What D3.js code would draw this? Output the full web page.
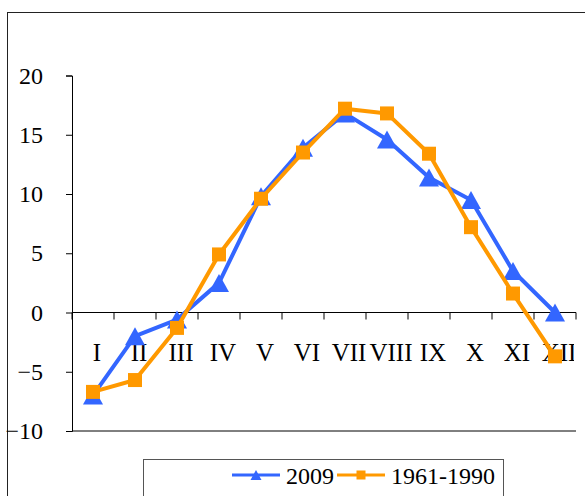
<!DOCTYPE html>
<html><head><meta charset="utf-8">
<script src="https://cdn.jsdelivr.net/npm/d3@7"></script>
<style>body{margin:0;background:#fff}svg{display:block}</style>
</head><body>
<svg id="c" width="585" height="496"></svg>
<script>
const months = ["I","II","III","IV","V","VI","VII","VIII","IX","X","XI","XII"];
const values2009 = [-7.0,-2.0,-0.6,2.5,9.8,13.9,16.8,14.6,11.4,9.5,3.5,0.0];
const values6190 = [-6.7,-5.7,-1.3,4.9,9.6,13.5,17.2,16.8,13.4,7.2,1.6,-3.7];
const yTicks = [-10,-5,0,5,10,15,20];
const seriesNames = ["2009","1961-1990"];

const FONT = "'Liberation Serif', 'DejaVu Serif', serif";
const svg = d3.select("#c").attr("font-family",FONT);
const blue = "#3366FF", orange = "#FF9900";
const fs = 24;

svg.append("rect").attr("x",7.5).attr("y",12.5).attr("width",620).attr("height",520)
  .attr("fill","none").attr("stroke","#222").attr("stroke-width",1);

const x = d3.scaleBand().domain(months).range([72,576]);
const y = d3.scaleLinear().domain([-10,20]).range([431,75.5]);

// y axis
const ya = svg.append("g").attr("transform","translate(72,0)")
  .call(d3.axisLeft(y).tickValues(yTicks).tickSize(6).tickPadding(23).tickFormat(d3.format("d")));
ya.attr("font-family",FONT).attr("font-size",fs);
ya.select(".domain").attr("stroke","#000");
ya.selectAll(".tick line").attr("stroke","#000");
ya.selectAll("text").attr("fill","#000");

// bottom line at -10
svg.append("line").attr("x1",72).attr("x2",576).attr("y1",y(-10)).attr("y2",y(-10)).attr("stroke","#000");

// x axis at 0
const xa = svg.append("g").attr("transform",`translate(0,${y(0)})`)
  .call(d3.axisBottom(x).tickSize(0).tickFormat(""));
xa.select(".domain").attr("stroke","#000").attr("d",`M72,0H576`);
const tickPos = months.map((m,i)=>x(m)).concat([576]);
xa.selectAll(".tk").data(tickPos).enter().append("line")
  .attr("x1",d=>d).attr("x2",d=>d).attr("y1",0).attr("y2",7).attr("stroke","#000");

// category labels (clipped at right edge of plot like the original)
svg.append("clipPath").attr("id","lc").append("rect").attr("x",0).attr("y",0).attr("width",574).attr("height",496);
svg.append("g").attr("clip-path","url(#lc)").attr("font-family",FONT).selectAll("text").data(months).enter().append("text")
  .attr("x",d=>x(d)+x.bandwidth()/2+4).attr("y",361)
  .attr("text-anchor","middle").attr("font-size",25).attr("fill","#000").text(d=>d);

const line = d3.line().x((d,i)=>x(months[i])+x.bandwidth()/2).y(d=>y(d));
const triPath = (w,h)=>`M0,${-h/2}L${w/2},${h/2}L${-w/2},${h/2}Z`;
const sqPath = s=>`M${-s/2},${-s/2}h${s}v${s}h${-s}Z`;

function drawSeries(vals,color,pathStr){
  svg.append("path").datum(vals).attr("d",line).attr("fill","none")
    .attr("stroke",color).attr("stroke-width",4).attr("stroke-linejoin","round");
  svg.append("g").selectAll("path").data(vals).enter().append("path")
    .attr("d",pathStr).attr("fill",color)
    .attr("transform",(d,i)=>`translate(${x(months[i])+x.bandwidth()/2},${y(d)})`);
}
drawSeries(values2009,blue,triPath(20,18));
drawSeries(values6190,orange,sqPath(14));

// legend
svg.append("rect").attr("x",143.5).attr("y",459.5).attr("width",360).attr("height",60)
  .attr("fill","#fff").attr("stroke","#555");
const ly = 475;
const leg = [{name:seriesNames[0],c:blue,p:triPath(11,10),x0:232},{name:seriesNames[1],c:orange,p:sqPath(9),x0:337}];
leg.forEach(l=>{
  svg.append("line").attr("x1",l.x0).attr("x2",l.x0+48).attr("y1",ly).attr("y2",ly).attr("stroke",l.c).attr("stroke-width",3);
  svg.append("path").attr("d",l.p).attr("fill",l.c).attr("transform",`translate(${l.x0+24},${ly})`);
  svg.append("text").attr("x",l.x0+54).attr("y",ly+9).attr("font-size",fs).attr("fill","#000").text(l.name);
});
</script>
</body></html>
